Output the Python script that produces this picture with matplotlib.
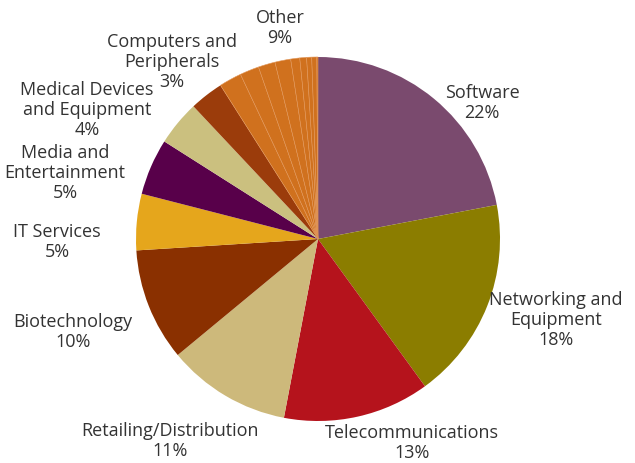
import matplotlib
matplotlib.use("Agg")
import matplotlib.pyplot as plt

# ── data ──────────────────────────────────────────────────────────────────────
categories = [
    "Software", "Networking and\nEquipment", "Telecommunications",
    "Retailing/Distribution", "Biotechnology", "IT Services",
    "Media and\nEntertainment", "Medical Devices\nand Equipment",
    "Computers and\nPeripherals",
]
shares = [22, 18, 13, 11, 10, 5, 5, 4, 3]
colors = ["#7A4A6E", "#8B7D00", "#B5131C", "#CDB97B", "#8A3000",
          "#E5A61C", "#58004A", "#CBC07F", "#9B3C0B"]

# "Other" (9%) is drawn as several thin orange slices
other_label = "Other"
other_total = 9
other_parts = [2.0, 1.7, 1.5, 1.4, 0.8, 0.6, 0.45, 0.45, 0.1]
other_color = "#D0711E"

# label centres in pixel coords (x, y from top)
label_pos = [(482, 103), (556, 320), (412, 443), (170, 441), (73, 332),
             (57, 242), (65, 173), (87, 110), (172, 62)]
other_pos = (280, 28)

plt.rcParams["font.family"] = ["Open Sans", "DejaVu Sans"]

W, H = 635, 464
fig = plt.figure(figsize=(W / 100, H / 100), dpi=100)
ax = fig.add_axes([0, 0, 1, 1])

values = shares + other_parts
wcolors = colors + [other_color] * len(other_parts)
wedges, _ = ax.pie(values, colors=wcolors, startangle=90, counterclock=False,
                   center=(318, H - 240), radius=182,
                   wedgeprops=dict(linewidth=0))
for w in wedges[len(shares):]:
    w.set_edgecolor("#E2975A")
    w.set_linewidth(0.4)

FS = 13
for name, pct, (x, y) in zip(categories, shares, label_pos):
    ax.text(x, H - y, f"{name}\n{pct}%", ha="center", va="center",
            fontsize=FS, color="#333333", linespacing=1.12)
ax.text(other_pos[0], H - other_pos[1], f"{other_label}\n{other_total}%",
        ha="center", va="center", fontsize=FS, color="#333333",
        linespacing=1.12)

ax.set_xlim(0, W)
ax.set_ylim(0, H)
ax.set_aspect("equal")
ax.axis("off")

fig.savefig("out.png", dpi=100)
